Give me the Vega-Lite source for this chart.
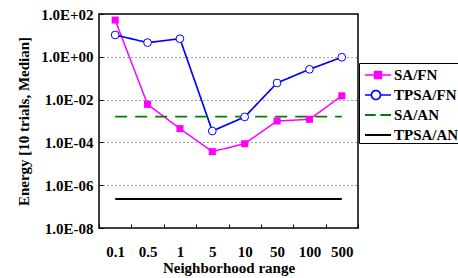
{
  "$schema": "https://vega.github.io/schema/vega-lite/v6.json",
  "width": 259,
  "height": 214,
  "autosize": {"type": "none"},
  "padding": {"left": 99, "top": 14, "right": 100, "bottom": 50},
  "background": "white",
  "config": {
    "view": {"stroke": "black", "strokeWidth": 1.5},
    "font": "Liberation Serif"
  },
  "data": {
    "values": [
      {"x": "0.1", "series": "SA/FN", "value": 52},
      {"x": "0.5", "series": "SA/FN", "value": 0.006},
      {"x": "1", "series": "SA/FN", "value": 0.00044},
      {"x": "5", "series": "SA/FN", "value": 0.000037},
      {"x": "10", "series": "SA/FN", "value": 0.000087},
      {"x": "50", "series": "SA/FN", "value": 0.001},
      {"x": "100", "series": "SA/FN", "value": 0.0012},
      {"x": "500", "series": "SA/FN", "value": 0.015},
      {"x": "0.1", "series": "TPSA/FN", "value": 10.5},
      {"x": "0.5", "series": "TPSA/FN", "value": 4.6},
      {"x": "1", "series": "TPSA/FN", "value": 7},
      {"x": "5", "series": "TPSA/FN", "value": 0.00034},
      {"x": "10", "series": "TPSA/FN", "value": 0.00155},
      {"x": "50", "series": "TPSA/FN", "value": 0.06},
      {"x": "100", "series": "TPSA/FN", "value": 0.26},
      {"x": "500", "series": "TPSA/FN", "value": 0.95},
      {"x": "0.1", "series": "SA/AN", "value": 0.0016},
      {"x": "500", "series": "SA/AN", "value": 0.0016},
      {"x": "0.1", "series": "TPSA/AN", "value": 2.26e-7},
      {"x": "500", "series": "TPSA/AN", "value": 2.26e-7}
    ]
  },
  "encoding": {
    "x": {
      "field": "x", "type": "ordinal",
      "sort": ["0.1", "0.5", "1", "5", "10", "50", "100", "500"],
      "scale": {"paddingInner": 0, "paddingOuter": 0},
      "axis": {
        "title": "Neighborhood range",
        "titleFont": "Liberation Serif", "titleFontWeight": "bold", "titleFontSize": 15, "titleColor": "black",
        "titlePadding": 1,
        "labelFont": "Liberation Serif", "labelFontWeight": "bold", "labelFontSize": 15, "labelColor": "black",
        "labelAngle": 0, "labelPadding": 20,
        "tickBand": "extent", "tickSize": -4, "tickColor": "black",
        "domain": false, "grid": false
      }
    },
    "y": {
      "field": "value", "type": "quantitative",
      "scale": {"type": "log", "domain": [1e-8, 100], "nice": false},
      "axis": {
        "title": "Energy [10 trials, Median]",
        "titleFont": "Liberation Serif", "titleFontWeight": "bold", "titleFontSize": 15, "titleColor": "black",
        "titlePadding": 9,
        "values": [1e-8, 1e-6, 1e-4, 1e-2, 1, 100],
        "labelExpr": "'1.0E' + (round(log(datum.value)/LN10) >= 0 ? '+' : '-') + (abs(round(log(datum.value)/LN10)) < 10 ? '0' : '') + abs(round(log(datum.value)/LN10))",
        "labelFont": "Liberation Serif", "labelFontWeight": "bold", "labelFontSize": 15, "labelColor": "black",
        "labelPadding": 10,
        "tickSize": -4, "tickColor": "black",
        "domain": false,
        "grid": true, "gridColor": "#444444", "gridDash": [1, 3], "gridWidth": 1
      }
    }
  },
  "layer": [
    {
      "mark": {"type": "line"},
      "encoding": {
        "color": {
          "field": "series", "type": "nominal",
          "scale": {"domain": ["SA/FN", "TPSA/FN", "SA/AN", "TPSA/AN"], "range": ["#ff00ff", "#0000ff", "#007f00", "#000000"]},
          "legend": {
            "title": null,
            "orient": "none", "legendX": 260, "legendY": 49,
            "strokeColor": "black", "padding": 0, "fillColor": "white",
            "symbolSize": 484, "rowPadding": 0, "labelOffset": 11,
            "labelFont": "Liberation Serif", "labelFontWeight": "bold", "labelFontSize": 15, "labelColor": "black",
            "encode": {
              "symbols": {
                "update": {
                  "shape": {"signal": "datum.value === 'SA/FN' ? 'M-0.545,0H1.818M0.318,-0.318H0.954V0.318H0.318Z' : datum.value === 'TPSA/FN' ? 'M-0.545,0H0.04M0.86,0H1.818M0.86,0A0.41,0.41 0 1,0 0.04,0A0.41,0.41 0 1,0 0.86,0' : datum.value === 'SA/AN' ? 'M-0.545,0H0.43M0.85,0H1.818' : 'M-0.545,0H1.818'"},
                  "fill": {"signal": "datum.value === 'SA/FN' ? '#ff00ff' : datum.value === 'TPSA/FN' ? '#ffffff' : 'transparent'"},
                  "strokeWidth": {"signal": "datum.value === 'SA/AN' ? 2.5 : 1.5"},
                  "opacity": {"value": 1}
                }
              }
            }
          }
        },
        "strokeDash": {
          "field": "series", "type": "nominal",
          "scale": {"domain": ["SA/FN", "TPSA/FN", "SA/AN", "TPSA/AN"], "range": [[1, 0], [1, 0], [12, 8], [1, 0]]},
          "legend": null
        },
        "strokeWidth": {
          "field": "series", "type": "nominal",
          "scale": {"domain": ["SA/FN", "TPSA/FN", "SA/AN", "TPSA/AN"], "range": [1.5, 2, 2.5, 1.8]},
          "legend": null
        }
      }
    },
    {
      "transform": [{"filter": "datum.series === 'SA/FN'"}],
      "mark": {"type": "point", "shape": "square", "filled": true, "fill": "#ff00ff", "size": 50, "opacity": 1}
    },
    {
      "transform": [{"filter": "datum.series === 'TPSA/FN'"}],
      "mark": {"type": "point", "shape": "circle", "filled": true, "fill": "#ffffff", "stroke": "#0000ff", "strokeWidth": 1, "size": 60, "opacity": 1}
    }
  ]
}
